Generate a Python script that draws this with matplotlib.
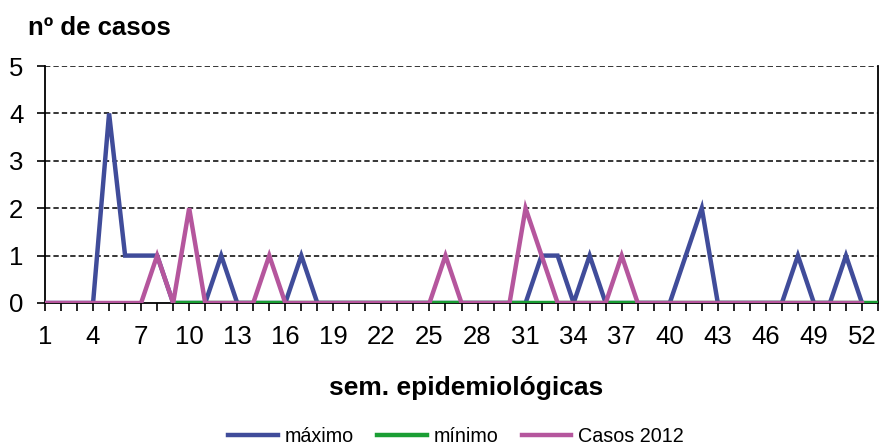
import numpy as np
import matplotlib.pyplot as plt

plt.rcParams['font.family'] = ['Liberation Sans', 'DejaVu Sans']

# weeks 1..53
weeks = list(range(1, 54))

# máximo (weeks 1..52)
maximo = [0, 0, 0, 0, 4, 1, 1, 1, 0, 0,
          0, 1, 0, 0, 0, 0, 1, 0, 0, 0,
          0, 0, 0, 0, 0, 0, 0, 0, 0, 0,
          0, 1, 1, 0, 1, 0, 0, 0, 0, 0,
          1, 2, 0, 0, 0, 0, 0, 1, 0, 0,
          1, 0, np.nan]

# mínimo (starts at week 9)
minimo = [np.nan] * 8 + [0] * 45

# Casos 2012 (weeks 1..52)
casos_2012 = [0, 0, 0, 0, 0, 0, 0, 1, 0, 2,
              0, 0, 0, 0, 1, 0, 0, 0, 0, 0,
              0, 0, 0, 0, 0, 1, 0, 0, 0, 0,
              2, 1, 0, 0, 0, 0, 1, 0, 0, 0,
              0, 0, 0, 0, 0, 0, 0, 0, 0, 0,
              0, 0, np.nan]

tick_labels = [str(w) for w in range(1, 53, 3)]

blue = (64/255, 76/255, 154/255)
green = (26/255, 158/255, 52/255)
pink = (181/255, 86/255, 157/255)

fig = plt.figure(figsize=(8.81, 4.48), dpi=100)
ax = fig.add_axes([45/881, 1 - 303/448, (878 - 45)/881, (303 - 66)/448])

x = np.arange(len(weeks))
ax.plot(x, maximo, color=blue, lw=3.2, label="máximo", solid_joinstyle="miter", zorder=3)
ax.plot(x, minimo, color=green, lw=3.2, label="mínimo", zorder=4)
ax.plot(x, casos_2012, color=pink, lw=3.2, label="Casos 2012", solid_joinstyle="miter", zorder=5)

ax.set_xlim(0, len(weeks) - 1)
ax.set_ylim(0, 5)
ax.set_yticks(range(6))
ax.set_xticks(x, minor=True)
ax.set_xticks(x[::3])
ax.set_xticklabels(tick_labels)

for y in range(1, 6):
    ax.axhline(y, color="black", lw=1.1, ls=(0, (3.5, 2)), zorder=1)

ax.spines["top"].set_visible(False)
for s in ["left", "right", "bottom"]:
    ax.spines[s].set_linewidth(1.3)
    ax.spines[s].set_color("black")

ax.tick_params(axis="x", which="both", direction="out", length=5.5, width=1.2,
               labelsize=18.5, pad=10)
ax.tick_params(axis="y", direction="out", length=5.5, width=1.2, labelsize=18.5, pad=10)

fig.text(28/881, 1 - 35/448, "nº de casos", fontsize=18.5, fontweight="bold",
         va="baseline", ha="left")
fig.text(466/881, 1 - 395/448, "sem. epidemiológicas", fontsize=19,
         fontweight="bold", va="baseline", ha="center")

fig.legend(loc="center", bbox_to_anchor=(456/881, 1 - 436/448), ncol=3,
           frameon=False, fontsize=14.2, handlelength=2.5, handletextpad=0.35,
           columnspacing=1.2)

fig.savefig("out.png", dpi=100)
